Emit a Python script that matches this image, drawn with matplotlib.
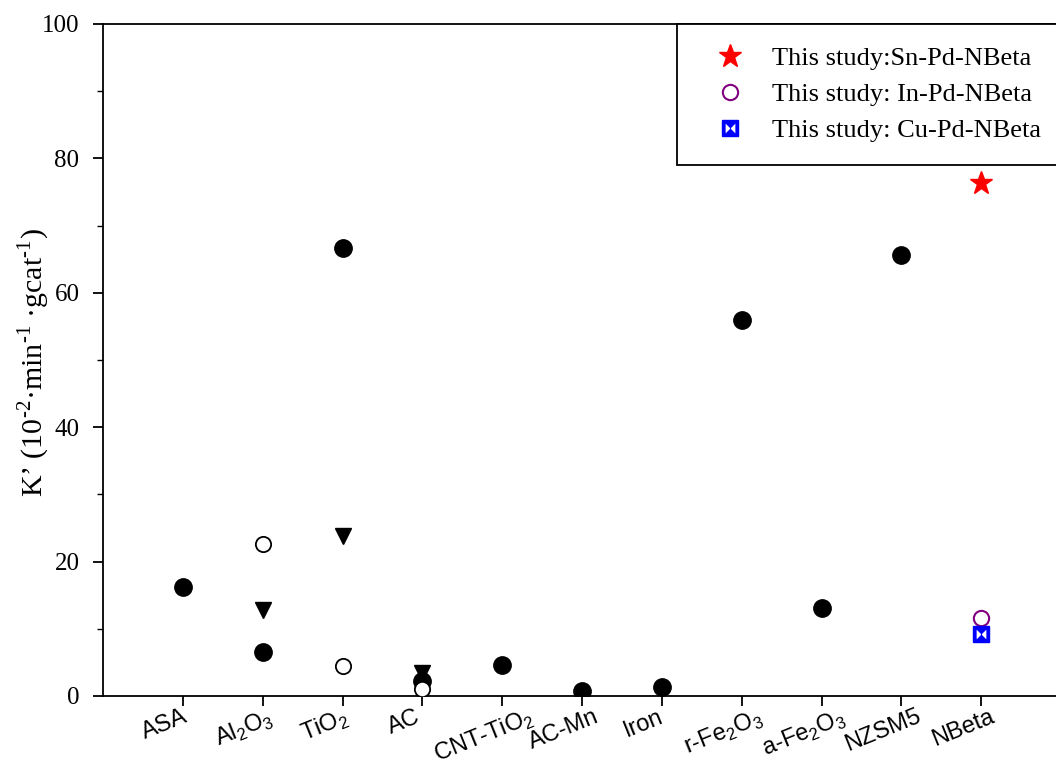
import matplotlib
matplotlib.use("Agg")
import matplotlib.pyplot as plt
from matplotlib.path import Path
from matplotlib.transforms import ScaledTranslation
from matplotlib.legend_handler import HandlerTuple

plt.rcParams["mathtext.fontset"] = "custom"
plt.rcParams["mathtext.rm"] = "Liberation Serif"
plt.rcParams["mathtext.sf"] = "Liberation Sans"

# categories on the x axis
supports = ["ASA", "Al$_\\mathsf{2}$O$_\\mathsf{3}$", "TiO$_\\mathsf{2}$", "AC",
            "CNT-TiO$_\\mathsf{2}$", "AC-Mn", "Iron", "r-Fe$_\\mathsf{2}$O$_\\mathsf{3}$",
            "a-Fe$_\\mathsf{2}$O$_\\mathsf{3}$", "NZSM5", "NBeta"]

# literature values (filled circles), per support position
lit_circle_x = [1, 2, 3, 4, 5, 6, 7, 8, 9, 10]
lit_circle_y = [16.2, 6.5, 66.7, 2.2, 4.6, 0.75, 1.3, 56.0, 13.1, 65.6]

# literature values (down triangles)
lit_tri_x = [2, 3, 4]
lit_tri_y = [12.8, 23.8, 3.4]

# literature values (open circles)
lit_open_x = [2, 3, 4]
lit_open_y = [22.6, 4.5, 1.0]

# this study on NBeta
sn_y = 76.3
in_y = 11.6
cu_y = 9.2
nbeta_x = 11

fig = plt.figure(figsize=(10.56, 7.67), dpi=100)
ax = fig.add_axes([103 / 1056, 71 / 767, 958 / 1056, 672 / 767])

ax.plot(lit_circle_x, lit_circle_y, "o", color="black", ms=12.5, ls="none", zorder=3)
ax.plot(lit_tri_x, lit_tri_y, "v", color="black", ms=12, ls="none", zorder=3)
ax.plot(lit_open_x, lit_open_y, "o", mfc="white", mec="black", mew=1.3, ms=11, ls="none", zorder=4)

star, = ax.plot([nbeta_x], [sn_y], "*", color="red", ms=17, ls="none", zorder=5)
ring, = ax.plot([nbeta_x], [in_y], "o", mfc="none", mec="purple", mew=1.5, ms=11, ls="none", zorder=5)

# blue square with two white triangles cut in from the sides
M, L, C = Path.MOVETO, Path.LINETO, Path.CLOSEPOLY
bowtie = Path([(-1, 1), (0, 0), (-1, -1), (-1, 1), (1, 1), (0, 0), (1, -1), (1, 1)],
              [M, L, L, C, M, L, L, C])
box, = ax.plot([nbeta_x], [cu_y], "s", color="blue", ms=11, ls="none", zorder=5)
cut, = ax.plot([nbeta_x], [cu_y], marker=bowtie, mfc="white", mec="white", mew=0,
               ms=7, ls="none", zorder=6)

ax.set_xlim(0, 12)
ax.set_ylim(0, 100)
ax.set_xticks(range(1, 12))
ax.set_yticks([0, 20, 40, 60, 80, 100])
ax.set_yticks([10, 30, 50, 70, 90], minor=True)
ax.tick_params(axis="both", which="major", direction="out", length=7, width=1.3)
ax.tick_params(axis="y", which="minor", direction="out", length=4.5, width=1.0)
ax.tick_params(axis="x", pad=0)
ax.tick_params(axis="y", pad=10)

ax.set_xticklabels(supports, rotation=22, ha="center", va="top",
                   fontsize=17, family="Liberation Sans")
# labels sit a bit left of their ticks, as in the original
shift = ScaledTranslation(-18 / 100, 0, fig.dpi_scale_trans)
for lbl in ax.get_xticklabels():
    lbl.set_transform(lbl.get_transform() + shift)
for lbl in ax.get_yticklabels():
    lbl.set_family("Liberation Serif")
    lbl.set_fontsize(18)

ax.spines["right"].set_visible(False)
for s in ["left", "bottom", "top"]:
    ax.spines[s].set_linewidth(1.3)

ax.set_ylabel("K\u2019 (10$^{\\text{-2}}$\u00b7min$^{\\text{-1}}$ \u00b7gcat$^{\\text{-1}}$)",
              fontsize=21.5, family="Liberation Serif")
ax.yaxis.set_label_coords((52 - 103) / 958, (696 - 363) / 672)

leg = ax.legend([star, ring, (box, cut)],
                ["This study:Sn-Pd-NBeta", "This study: In-Pd-NBeta", "This study: Cu-Pd-NBeta"],
                handler_map={tuple: HandlerTuple(ndivide=1, pad=0)},
                loc="upper left", bbox_to_anchor=((677 - 103) / 958, 1.0), borderaxespad=0,
                prop={"family": "Liberation Serif", "size": 19}, fancybox=False,
                edgecolor="black", framealpha=1, borderpad=0.85, labelspacing=0.48,
                handletextpad=0.45, handlelength=2.3)
leg.get_frame().set_linewidth(1.3)

fig.savefig("out.png", dpi=100)
